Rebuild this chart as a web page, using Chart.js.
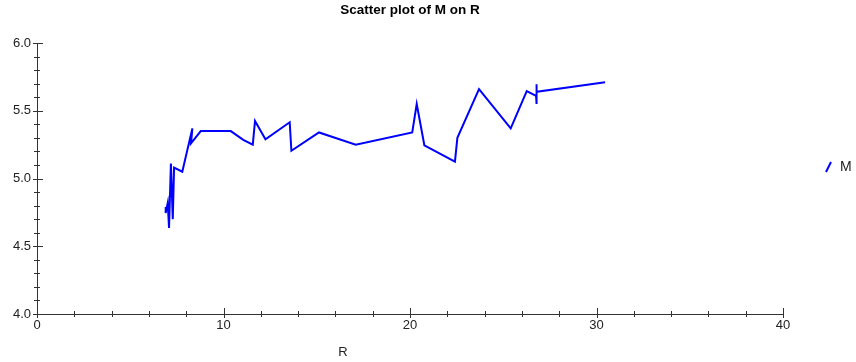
<!doctype html>
<html>
<head>
<meta charset="utf-8">
<script src="https://cdn.jsdelivr.net/npm/chart.js"></script>
<style>html,body{margin:0;padding:0;background:#fff}</style>
</head>
<body>
<canvas id="chart" width="856" height="362"></canvas>
<script>
// values, in drawing order
const rValues = [6.90, 6.90, 7.01, 7.08, 7.18, 7.28, 7.35, 7.79, 8.33, 8.26, 8.78, 10.39,
  11.06, 11.57, 11.69, 12.25, 13.55, 13.64, 15.12, 17.09, 20.12, 20.36, 20.77, 22.41,
  22.54, 23.70, 25.40, 26.26, 26.76, 26.77, 26.79, 26.80, 30.46];
const mValues = [4.79, 4.745, 4.82, 4.635, 5.11, 4.70, 5.08, 5.05, 5.37, 5.26, 5.35, 5.35,
  5.285, 5.25, 5.425, 5.29, 5.415, 5.205, 5.34, 5.25, 5.34, 5.55, 5.245, 5.125,
  5.30, 5.66, 5.37, 5.645, 5.61, 5.695, 5.55, 5.64, 5.71];
const xTicks = [0, 10, 20, 30, 40];
const yTicks = [4.0, 4.5, 5.0, 5.5, 6.0];
const xMinorStep = 2, yMinorStep = 0.1;
const seriesName = 'M';
const titleText = 'Scatter plot of M on R';
const xTitle = 'R';

Chart.defaults.font.family = '"Liberation Sans", Arial, sans-serif';
Chart.defaults.font.size = 13;
Chart.defaults.color = '#222';

const extras = {
  id: 'extras',
  afterDraw(chart) {
    const {ctx, scales: {x, y}} = chart;
    ctx.save();
    ctx.strokeStyle = '#333';
    ctx.lineWidth = 1;
    // x ticks
    const nx = Math.round((xTicks[xTicks.length - 1] - xTicks[0]) / xMinorStep);
    for (let i = 0; i <= nx; i++) {
      const v = xTicks[0] + i * xMinorStep;
      const major = xTicks.includes(v);
      const px = Math.round(x.getPixelForValue(v)) + 0.5;
      ctx.beginPath();
      ctx.moveTo(px, y.bottom + (major ? 4 : 3));
      ctx.lineTo(px, y.bottom - (major ? 6 : 3));
      ctx.stroke();
    }
    // y ticks
    const ny = Math.round((yTicks[yTicks.length - 1] - yTicks[0]) / yMinorStep);
    for (let i = 0; i <= ny; i++) {
      const v = yTicks[0] + i * yMinorStep;
      const major = i % 5 === 0;
      const py = Math.round(y.getPixelForValue(v)) + 0.5;
      ctx.beginPath();
      ctx.moveTo(x.left - (major ? 4 : 3), py);
      ctx.lineTo(x.left + (major ? 6 : 3), py);
      ctx.stroke();
    }
    // title
    ctx.fillStyle = '#000';
    ctx.textAlign = 'center';
    ctx.textBaseline = 'middle';
    ctx.font = 'bold 13.5px "Liberation Sans", Arial, sans-serif';
    ctx.fillText(titleText, (x.left + x.right) / 2, 10);
    // axis title
    ctx.font = '13px "Liberation Sans", Arial, sans-serif';
    ctx.fillStyle = '#222';
    ctx.fillText(xTitle, 343, 352);
    // legend
    ctx.strokeStyle = '#0000ff';
    ctx.lineWidth = 2;
    ctx.beginPath();
    ctx.moveTo(826, 172);
    ctx.lineTo(831, 162);
    ctx.stroke();
    ctx.textAlign = 'left';
    ctx.font = '14px "Liberation Sans", Arial, sans-serif';
    ctx.fillText(chart.data.datasets[0].label, 840, 167);
    ctx.restore();
  }
};

new Chart(document.getElementById('chart'), {
  type: 'scatter',
  data: {
    datasets: [{
      label: seriesName,
      data: rValues.map((r, i) => ({x: r, y: mValues[i]})),
      showLine: true,
      borderColor: '#0000ff',
      borderWidth: 2,
      pointRadius: 0,
      tension: 0
    }]
  },
  options: {
    responsive: false,
    animation: false,
    layout: {padding: {top: 43, right: 73, left: 0, bottom: 0}},
    plugins: {legend: {display: false}, title: {display: false}, tooltip: {enabled: false}},
    scales: {
      x: {
        min: xTicks[0], max: xTicks[xTicks.length - 1],
        afterFit(s) { s.height = 48; },
        grid: {drawOnChartArea: false, drawTicks: false},
        border: {color: '#333', width: 1},
        ticks: {stepSize: 10, padding: 4, maxRotation: 0}
      },
      y: {
        min: yTicks[0], max: yTicks[yTicks.length - 1],
        afterFit(s) { s.width = 37; },
        grid: {drawOnChartArea: false, drawTicks: false},
        border: {color: '#333', width: 1},
        ticks: {stepSize: 0.5, padding: 6, callback: v => v.toFixed(1)}
      }
    }
  },
  plugins: [extras]
});
</script>
</body>
</html>
